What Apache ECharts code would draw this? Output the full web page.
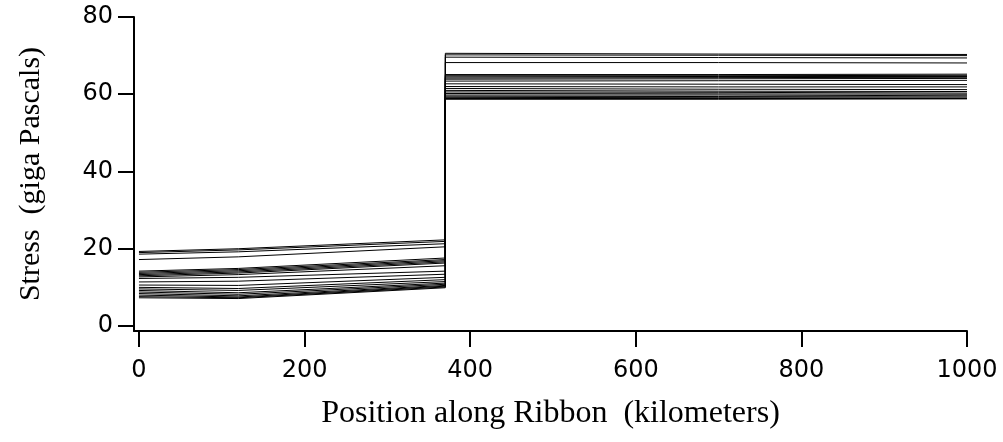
<!DOCTYPE html>
<html>
<head>
<meta charset="utf-8">
<style>
  html, body { margin: 0; padding: 0; background: #fff; }
  #chart { width: 1003px; height: 442px; }
</style>
<script src="https://cdn.jsdelivr.net/npm/echarts@6/dist/echarts.min.js"></script>
</head>
<body>
<div id="chart"></div>
<script>
// Positions (km) of the knots every stress profile passes through.
// The step at 370 km is where each profile jumps from the lower to the upper section.
var knotPositions = [0, 120, 370, 370, 700, 1000];

// Stress (GPa) of each profile at each knot, one entry per profile.
var stressAt0    = [19.3, 19.0, 18.6, 17.2, 14.2, 13.9, 13.6, 13.3, 13.0, 12.7, 12.3, 11.4, 10.6, 10.0, 9.6, 9.2, 8.8, 8.4, 8.0, 7.6, 7.3];
var stressAt120  = [20.0, 19.7, 19.2, 17.9, 14.9, 14.6, 14.3, 14.0, 13.7, 13.3, 12.6, 11.6, 10.5, 9.7, 9.2, 8.6, 8.2, 7.8, 7.5, 7.3, 7.1];
var stressAt370L = [22.3, 21.9, 21.3, 20.5, 17.6, 17.2, 16.9, 16.6, 16.3, 15.6, 14.2, 13.4, 12.6, 12.0, 11.5, 11.1, 10.8, 10.5, 10.3, 10.1, 9.9];
var stressAt370R = [70.6, 70.2, 69.6, 68.2, 65.1, 64.8, 64.5, 64.2, 63.9, 63.4, 62.7, 62.0, 61.5, 61.0, 60.6, 60.2, 59.8, 59.5, 59.2, 58.9, 58.7];
var stressAt700  = [70.4, 70.1, 69.5, 68.2, 65.1, 64.8, 64.6, 64.3, 64.0, 63.5, 62.6, 61.9, 61.3, 60.8, 60.5, 60.1, 59.8, 59.4, 59.1, 58.9, 58.7];
var stressAt1000 = [70.3, 70.0, 69.4, 68.1, 65.2, 64.9, 64.6, 64.4, 64.1, 63.6, 62.5, 61.9, 61.2, 60.7, 60.3, 60.0, 59.6, 59.3, 59.0, 58.9, 58.8];

var xTicks = [0, 200, 400, 600, 800, 1000];
var yTicks = [0, 20, 40, 60, 80];

var columns = [stressAt0, stressAt120, stressAt370L, stressAt370R, stressAt700, stressAt1000];
var series = stressAt0.map(function (_, i) {
  return {
    type: 'line',
    data: knotPositions.map(function (x, k) { return [x, columns[k][i]]; }),
    showSymbol: false,
    symbol: 'none',
    lineStyle: { color: '#000', width: 1 },
    silent: true,
    animation: false
  };
});

function plain(v) { return String(v); }

var tickFont = { fontFamily: 'DejaVu Sans', fontSize: 24, color: '#000' };

var chart = echarts.init(document.getElementById('chart'), null, { renderer: 'canvas' });
chart.setOption({
  backgroundColor: '#fff',
  animation: false,
  grid: { left: 134, right: 36, top: 17, bottom: 111, containLabel: false },
  xAxis: {
    type: 'value',
    min: -6,
    max: 1000,
    name: 'Position along Ribbon  (kilometers)',
    nameLocation: 'middle',
    nameGap: 67,
    nameTextStyle: { fontFamily: 'Liberation Serif', fontSize: 32, color: '#000' },
    axisLine: { onZero: false, lineStyle: { color: '#000', width: 2 } },
    axisTick: { show: true, inside: false, length: 16, customValues: xTicks, lineStyle: { color: '#000', width: 2 } },
    axisLabel: Object.assign({ customValues: xTicks, margin: 28, formatter: plain }, tickFont),
    splitLine: { show: false }
  },
  yAxis: {
    type: 'value',
    min: -1.3,
    max: 80,
    name: 'Stress  (giga Pascals)',
    nameLocation: 'middle',
    nameGap: 88,
    nameTextStyle: { fontFamily: 'Liberation Serif', fontSize: 30, color: '#000' },
    axisLine: { show: true, onZero: false, lineStyle: { color: '#000', width: 2 } },
    axisTick: { show: true, inside: false, length: 16, customValues: yTicks, lineStyle: { color: '#000', width: 2 } },
    axisLabel: Object.assign({ customValues: yTicks, margin: 21, formatter: plain }, tickFont),
    splitLine: { show: false }
  },
  series: series
});
</script>
</body>
</html>
